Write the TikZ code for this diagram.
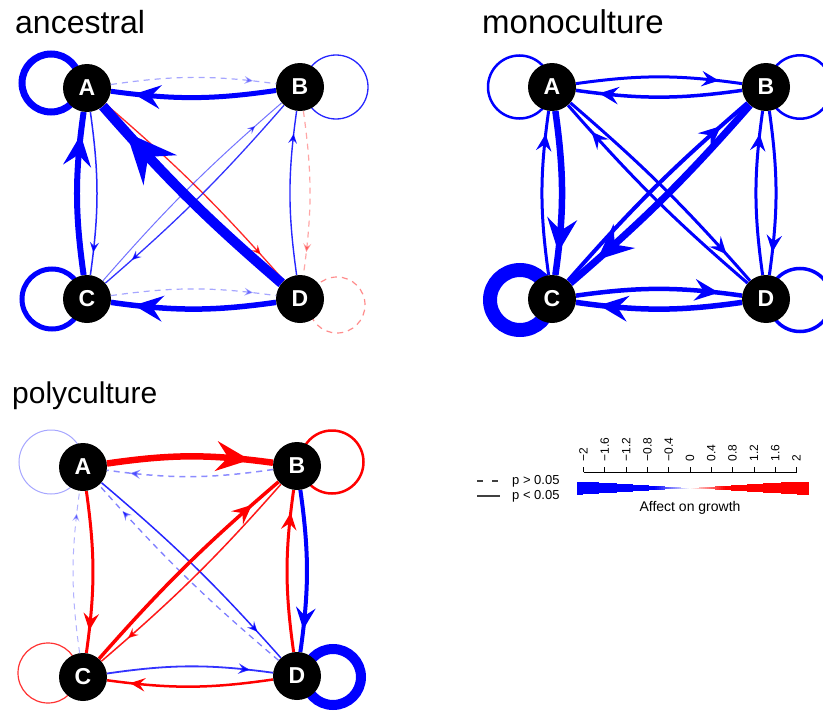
\documentclass[tikz,border=0pt]{standalone}
\usepackage{fontspec}
\setmainfont{Liberation Sans}
\usetikzlibrary{arrows.meta,decorations.markings,calc}
\pgfdeclarelayer{bg}
\pgfsetlayers{bg,main}
\tikzset{
  nd/.style={circle, fill=black, minimum size=48pt, inner sep=0pt, text=white,
    font=\bfseries\fontsize{23}{23}\selectfont},
  ar/.style={postaction={decorate}, decoration={markings, mark=at position 0.86 with
    {\arrow{Stealth[length=3pt 4.7, width=3pt 4.1, inset=1.4pt 1.6]}}}},
  bl/.style={draw=blue, ar},
  rd/.style={draw=red, ar},
  ds/.style={dash pattern=on 6pt off 5pt},
  ttl/.style={anchor=base west, inner sep=0pt},
  lp/.style={line width=#1pt},
  ob/.style={bend left=8},
  db/.style={bend left=4},
}
\begin{document}
\begin{tikzpicture}[x=1pt,y=1pt]
\useasboundingbox (0,0) rectangle (823,-712);
\clip (0,0) rectangle (823,-712);
% titles
\node[ttl, font=\fontsize{32}{32}\selectfont] (t1) at (15,-33) {ancestral};
\node[ttl, font=\fontsize{33}{33}\selectfont] (t2) at (482,-33) {monoculture};
\node[ttl, font=\fontsize{30}{30}\selectfont] (t3) at (12,-403) {polyculture};
% nodes
\node[nd] (aA) at (87,-88) {A};
\node[nd] (aB) at (300,-87) {B};
\node[nd] (aC) at (87,-299) {C};
\node[nd] (aD) at (300,-299) {D};
\node[nd] (mA) at (552,-87) {A};
\node[nd] (mB) at (766,-87) {B};
\node[nd] (mC) at (552,-299) {C};
\node[nd] (mD) at (766,-299) {D};
\node[nd] (pA) at (83,-467) {A};
\node[nd] (pB) at (297,-466) {B};
\node[nd] (pC) at (83,-677) {C};
\node[nd] (pD) at (297,-676) {D};
\begin{pgfonlayer}{bg}
% ---------- ancestral ----------
\draw[blue, lp=7] ($(aA)+(-36,5)$) circle[radius=29pt];
\draw[blue, lp=1.3, opacity=.85] ($(aB)+(36,0)$) circle[radius=32pt];
\draw[blue, lp=5] ($(aC)+(-35,0)$) circle[radius=30pt];
\draw[red, lp=1.2, opacity=.45, ds] ($(aD)+(37,-6)$) circle[radius=28pt];
\draw[bl, lp=1.2, opacity=.35, ds] (aA) to[ob] (aB);
\draw[bl, lp=5] (aB) to[ob] (aA);
\draw[bl, lp=1.5, opacity=.85] (aA) to[ob] (aC);
\draw[bl, lp=6] (aC) to[ob] (aA);
\draw[rd, lp=1.3, opacity=.85] (aA) to[db] (aD);
\draw[bl, lp=10] (aD) to[db] (aA);
\draw[bl, lp=1.3, opacity=.8] (aB) to[db] (aC);
\draw[bl, lp=1, opacity=.55] (aC) to[db] (aB);
\draw[rd, lp=1.2, opacity=.35, ds] (aB) to[ob] (aD);
\draw[bl, lp=1.4, opacity=.85] (aD) to[ob] (aB);
\draw[bl, lp=1.2, opacity=.35, ds] (aC) to[ob] (aD);
\draw[bl, lp=5.5] (aD) to[ob] (aC);
% ---------- monoculture ----------
\draw[blue, lp=2.5] ($(mA)+(-32.5,0)$) circle[radius=31.5pt];
\draw[blue, lp=2.5] ($(mB)+(34,0)$) circle[radius=31.7pt];
\draw[blue, lp=14] ($(mC)+(-32,-1)$) circle[radius=30pt];
\draw[blue, lp=3.5] ($(mD)+(34,-1)$) circle[radius=31.5pt];
\draw[bl, lp=3] (mA) to[ob] (mB);
\draw[bl, lp=3.5] (mB) to[ob] (mA);
\draw[bl, lp=6.5] (mA) to[ob] (mC);
\draw[bl, lp=3] (mC) to[ob] (mA);
\draw[bl, lp=3] (mA) to[db] (mD);
\draw[bl, lp=3] (mD) to[db] (mA);
\draw[bl, lp=7] (mB) to[db] (mC);
\draw[bl, lp=4] (mC) to[db] (mB);
\draw[bl, lp=3] (mB) to[ob] (mD);
\draw[bl, lp=3] (mD) to[ob] (mB);
\draw[bl, lp=4.5] (mC) to[ob] (mD);
\draw[bl, lp=5.5] (mD) to[ob] (mC);
% ---------- polyculture ----------
\draw[blue, lp=1, opacity=.35] ($(pA)+(-32,5)$) circle[radius=32pt];
\draw[red, lp=2.5] ($(pB)+(35,4)$) circle[radius=31.5pt];
\draw[red, lp=1.2, opacity=.8] ($(pC)+(-35,4)$) circle[radius=30pt];
\draw[blue, lp=10] ($(pD)+(36,-1)$) circle[radius=28pt];
\draw[rd, lp=6.5] (pA) to[ob] (pB);
\draw[bl, lp=1.5, opacity=.45, ds] (pB) to[ob] (pA);
\draw[rd, lp=3] (pA) to[ob] (pC);
\draw[bl, lp=1, opacity=.3, ds] (pC) to[ob] (pA);
\draw[bl, lp=1.5, opacity=.85] (pA) to[db] (pD);
\draw[bl, lp=1.3, opacity=.5, ds] (pD) to[db] (pA);
\draw[rd, lp=1.5, opacity=.9] (pB) to[db] (pC);
\draw[rd, lp=3.5] (pC) to[db] (pB);
\draw[bl, lp=4] (pB) to[ob] (pD);
\draw[rd, lp=3] (pD) to[ob] (pB);
\draw[bl, lp=1.8, opacity=.8] (pC) to[ob] (pD);
\draw[rd, lp=2.5] (pD) to[ob] (pC);
\end{pgfonlayer}
% ---------- legend ----------
\coordinate (l1a) at (477,-481); \coordinate (l1b) at (500,-481);
\coordinate (l2a) at (477,-496); \coordinate (l2b) at (500,-496);
\draw[black!75, line width=1.3pt, dash pattern=on 6pt off 9pt] (l1a) -- (l1b);
\draw[black!75, line width=1.3pt] (l2a) -- (l2b);
\node[anchor=west, inner sep=0pt, font=\fontsize{13}{13}\selectfont] (lt1) at (512,-481) {p > 0.05};
\node[anchor=west, inner sep=0pt, font=\fontsize{13}{13}\selectfont] (lt2) at (512,-496) {p < 0.05};
% colour bar
\foreach \i in {0,...,56} {
  \pgfmathsetmacro\xx{577+2*\i}
  \pgfmathsetmacro\vv{(\xx+1-690)/53.25}
  \pgfmathsetmacro\hh{max(0.4,min(6.5,3.25*abs(\vv)))}
  \pgfmathsetmacro\pp{min(100,abs(\vv)*150)}
  \fill[blue!\pp!white] ({\xx},{-488+\hh}) rectangle ({\xx+2.3},{-488-\hh});
}
\foreach \i in {57,...,115} {
  \pgfmathsetmacro\xx{577+2*\i}
  \pgfmathsetmacro\vv{(\xx+1-690)/53.25}
  \pgfmathsetmacro\hh{max(0.4,min(6.5,3.25*abs(\vv)))}
  \pgfmathsetmacro\pp{min(100,abs(\vv)*150)}
  \fill[red!\pp!white] ({\xx},{-488+\hh}) rectangle ({\xx+2.3},{-488-\hh});
}
\coordinate (ax1) at (583.5,-472); \coordinate (ax2) at (796.5,-472);
\draw[line width=0.8pt] (ax1) -- (ax2);
\foreach \v/\lab [count=\k] in {-2/−2,-1.6/−1.6,-1.2/−1.2,-0.8/−0.8,-0.4/−0.4,0/0,0.4/0.4,0.8/0.8,1.2/1.2,1.6/1.6,2/2} {
  \coordinate (tk\k) at ({690+53.25*\v},-472);
  \draw[line width=0.8pt] (tk\k) -- ++(0,5);
  \node[rotate=90, anchor=west, inner sep=0pt, font=\fontsize{12}{12}\selectfont] (tl\k) at ({690+53.25*\v},-461.5) {\lab};
}
\node[font=\fontsize{14}{14}\selectfont] (cap) at (690,-508) {Affect on growth};
\end{tikzpicture}
\end{document}
